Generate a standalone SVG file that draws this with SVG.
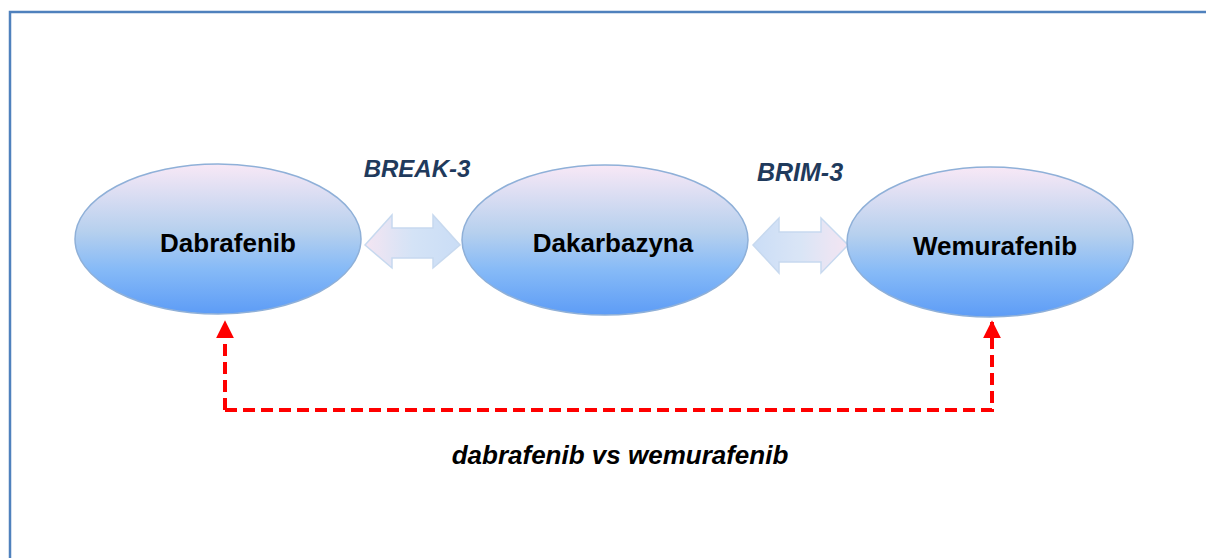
<svg xmlns="http://www.w3.org/2000/svg" width="1206" height="558" viewBox="0 0 1206 558">
<style>
.node{stroke:#8fb0d8;stroke-width:1.5}
.lbl{font-family:"Liberation Sans",Arial,sans-serif;font-weight:bold;font-size:26px;fill:#000;text-anchor:middle}
.trial{font-family:"Liberation Sans",Arial,sans-serif;font-weight:bold;font-style:italic;font-size:24px;fill:#1f3a5c;text-anchor:middle}
.cmp{font-family:"Liberation Sans",Arial,sans-serif;font-weight:bold;font-style:italic;font-size:26px;fill:#000;text-anchor:middle}
.darr{stroke:#c5d8ef;stroke-width:1.5;opacity:0.95}
.dash{fill:none;stroke:#ff0000;stroke-width:4;stroke-dasharray:12 6}
</style>
<defs>
<linearGradient id="ng" x1="0" y1="0" x2="0" y2="1">
<stop offset="0" stop-color="#f8e8f6"/>
<stop offset="0.45" stop-color="#b6d0ee"/>
<stop offset="0.7" stop-color="#86baf7"/>
<stop offset="1" stop-color="#5d9cf6"/>
</linearGradient>
<linearGradient id="agL" x1="0" y1="0" x2="1" y2="0">
<stop offset="0" stop-color="#f4e4f2"/>
<stop offset="0.5" stop-color="#d2e2f6"/>
<stop offset="1" stop-color="#c8dcf6"/>
</linearGradient>
<linearGradient id="agR" x1="0" y1="0" x2="1" y2="0">
<stop offset="0" stop-color="#c8dcf6"/>
<stop offset="0.5" stop-color="#d8e4f6"/>
<stop offset="1" stop-color="#f4e4f2"/>
</linearGradient>
<marker id="rh" viewBox="0 0 10 10" refX="9" refY="5" markerWidth="4.5" markerHeight="4.5" orient="auto" markerUnits="strokeWidth">
<path d="M0,0 L10,5 L0,10 z" fill="#ff0000"/>
</marker>
</defs>
<rect x="10" y="12" width="1210" height="560" fill="#fff" stroke="#4f81bd" stroke-width="2.5"/>
<g id="connectors">
<path class="darr" fill="url(#agL)" d="M365,245 L392,215 L392,228 L433,228 L433,215 L460,245 L433,268 L433,258 L392,258 L392,268 Z"/>
<path class="darr" fill="url(#agR)" d="M753,245 L779,218 L779,232 L821,232 L821,218 L848,245 L821,273 L821,262 L779,262 L779,273 Z"/>
<path class="dash" d="M225,410 L225,322" marker-end="url(#rh)"/>
<path class="dash" d="M225,410 L992,410 L992,322" marker-end="url(#rh)"/>
</g>
<g id="label-break3"><text class="trial" x="417" y="177">BREAK-3</text></g>
<g id="label-brim3"><text class="trial" x="800" y="181" style="font-size:25px">BRIM-3</text></g>
<g id="node-dabrafenib">
<ellipse class="node" cx="218" cy="239" rx="143" ry="75" fill="url(#ng)"/>
<text class="lbl" x="228" y="252">Dabrafenib</text>
</g>
<g id="node-dakarbazyna">
<ellipse class="node" cx="605" cy="240" rx="143" ry="75" fill="url(#ng)"/>
<text class="lbl" x="613" y="252">Dakarbazyna</text>
</g>
<g id="node-wemurafenib">
<ellipse class="node" cx="990" cy="242" rx="143" ry="75" fill="url(#ng)"/>
<text class="lbl" x="995" y="255">Wemurafenib</text>
</g>
<g id="label-compare"><text class="cmp" x="620" y="464">dabrafenib vs wemurafenib</text></g>
</svg>
